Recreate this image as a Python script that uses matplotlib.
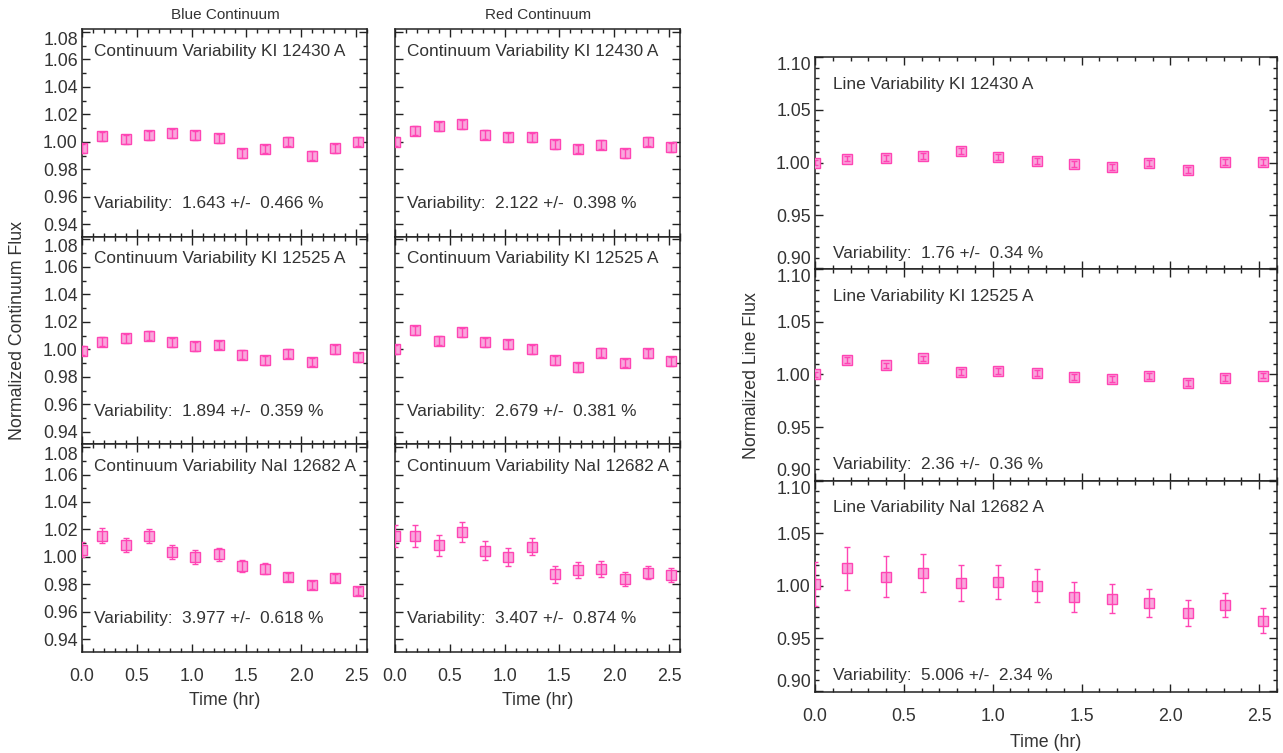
import matplotlib
matplotlib.use("Agg")
import matplotlib.pyplot as plt
from matplotlib.ticker import MultipleLocator, FixedLocator

plt.rcParams['font.family'] = ['Liberation Sans', 'DejaVu Sans']

# ---------------- data ----------------
time_hr = [0.0, 0.18, 0.40, 0.61, 0.82, 1.03, 1.25, 1.46, 1.67, 1.88, 2.10, 2.31, 2.52]

lines = ["KI 12430 A", "KI 12525 A", "NaI 12682 A"]

blue_flux = [
    [0.9954, 1.0039, 1.0019, 1.0048, 1.0063, 1.0048, 1.0024, 0.9915, 0.9947, 1.0000, 0.9898, 0.9954, 1.0002],
    [0.9990, 1.0056, 1.0080, 1.0099, 1.0053, 1.0024, 1.0032, 0.9961, 0.9922, 0.9968, 0.9908, 1.0002, 0.9942],
    [1.0053, 1.0155, 1.0090, 1.0155, 1.0036, 1.0000, 1.0019, 0.9932, 0.9915, 0.9852, 0.9796, 0.9845, 0.9755],
]
blue_err = [
    [0.0032] * 13,
    [0.0032] * 13,
    [0.0053, 0.0053, 0.0051, 0.0050, 0.0048, 0.0048, 0.0046, 0.0044, 0.0039, 0.0030, 0.0031, 0.0028, 0.0029],
]
blue_var = ["1.643 +/-  0.466 %", "1.894 +/-  0.359 %", "3.977 +/-  0.618 %"]

red_flux = [
    [1.0002, 1.0080, 1.0112, 1.0128, 1.0051, 1.0034, 1.0032, 0.9981, 0.9947, 0.9978, 0.9915, 1.0002, 0.9959],
    [1.0002, 1.0138, 1.0063, 1.0126, 1.0051, 1.0036, 1.0002, 0.9920, 0.9869, 0.9976, 0.9901, 0.9971, 0.9915],
    [1.0150, 1.0150, 1.0085, 1.0179, 1.0044, 1.0000, 1.0073, 0.9874, 0.9908, 0.9913, 0.9838, 0.9886, 0.9867],
]
red_err = [
    [0.0032] * 13,
    [0.0032] * 13,
    [0.0080, 0.0080, 0.0076, 0.0073, 0.0070, 0.0067, 0.0062, 0.0062, 0.0058, 0.0056, 0.0052, 0.0048, 0.0051],
]
red_var = ["2.122 +/-  0.398 %", "2.679 +/-  0.381 %", "3.407 +/-  0.874 %"]

line_flux = [
    [1.0000, 1.0038, 1.0044, 1.0060, 1.0111, 1.0054, 1.0016, 0.9987, 0.9956, 0.9994, 0.9933, 1.0003, 1.0003],
    [1.0000, 1.0140, 1.0086, 1.0152, 1.0025, 1.0035, 1.0016, 0.9978, 0.9959, 0.9984, 0.9917, 0.9965, 0.9990],
    [1.0016, 1.0165, 1.0086, 1.0121, 1.0025, 1.0032, 1.0000, 0.9892, 0.9876, 0.9835, 0.9743, 0.9816, 0.9667],
]
line_err = [
    [0.0027] * 13,
    [0.0027] * 13,
    [0.0205, 0.0205, 0.0194, 0.0180, 0.0170, 0.0163, 0.0156, 0.0146, 0.0138, 0.0130, 0.0124, 0.0113, 0.0116],
]
line_var = ["1.76 +/-  0.34 %", "2.36 +/-  0.36 %", "5.006 +/-  2.34 %"]

cont_yticks = [0.94, 0.96, 0.98, 1.00, 1.02, 1.04, 1.06, 1.08]
line_yticks = [0.90, 0.95, 1.00, 1.05, 1.10]
xticks = [0.0, 0.5, 1.0, 1.5, 2.0, 2.5]

# ---------------- style ----------------
W, H = 1283, 753
FILL = '#f9a6dc'
EDGE = '#ff45b4'
TXT = '#333333'
TICK_FS = 12.8
ANN_FS = 12.4

fig = plt.figure(figsize=(W / 100, H / 100), dpi=100)


def px_axes(x0, y0, x1, y1):
    return fig.add_axes([x0 / W, 1 - y1 / H, (x1 - x0) / W, (y1 - y0) / H])


def style_axes(ax, xlim, ylim, yticks, yminor, show_ylabels, show_xlabels,
               shift_top=True, shift_bottom=False):
    ax.set_xlim(*xlim)
    ax.set_ylim(*ylim)
    ax.xaxis.set_major_locator(FixedLocator(xticks))
    ax.xaxis.set_minor_locator(MultipleLocator(0.1))
    ax.set_yticks(yticks)
    ax.set_yticklabels(["%.2f" % v for v in yticks])
    ax.yaxis.set_minor_locator(MultipleLocator(yminor))
    ax.set_xticklabels(["%.1f" % v for v in xticks])
    ax.tick_params(which='both', direction='in', top=True, right=True,
                   colors='#222222', labelcolor=TXT, labelsize=TICK_FS, width=1.0)
    ax.tick_params(which='major', length=5.5)
    ax.tick_params(which='minor', length=3)
    ax.tick_params(axis='x', pad=12)
    ax.tick_params(axis='y', pad=3)
    if not show_ylabels:
        ax.tick_params(axis='y', labelleft=False)
    if not show_xlabels:
        ax.tick_params(axis='x', labelbottom=False)
    for s in ax.spines.values():
        s.set_linewidth(1.1)
        s.set_color('#222222')
    if show_ylabels:
        labs = ax.get_yticklabels()
        if shift_top:
            labs[-1].set_verticalalignment('top')
        if shift_bottom:
            labs[0].set_verticalalignment('bottom')


def draw_points(ax, y, e, ms):
    ax.plot(time_hr, y, 's', ms=ms, mfc=FILL, mec=EDGE, mew=1.0, zorder=3)
    ax.errorbar(time_hr, y, yerr=e, fmt='none', ecolor=EDGE, elinewidth=1.0,
                capsize=2, capthick=1.0, zorder=4)


left_rows = [(29, 236.7), (236.7, 444.3), (444.3, 651.7)]
right_rows = [(57, 269.3), (269.3, 480.7), (480.7, 691.7)]
cols = [(82, 367, blue_flux, blue_err, blue_var, True),
        (395, 680, red_flux, red_err, red_var, False)]

for (x0, x1, flux, err, var, showy) in cols:
    for i, (y0, y1) in enumerate(left_rows):
        ax = px_axes(x0, y0, x1, y1)
        draw_points(ax, flux[i], err[i], 7.2)
        style_axes(ax, (0, 2.6), (0.931, 1.082), cont_yticks, 0.01, showy, i == 2)
        ax.text(0.042, 0.894, "Continuum Variability " + lines[i], transform=ax.transAxes,
                fontsize=ANN_FS, color=TXT, va='center', ha='left')
        ax.text(0.042, 0.159, "Variability:  " + var[i], transform=ax.transAxes,
                fontsize=ANN_FS, color=TXT, va='center', ha='left')
        if i == 2:
            ax.set_xlabel("Time (hr)", fontsize=TICK_FS, color=TXT, labelpad=5)

for i, (y0, y1) in enumerate(right_rows):
    ax = px_axes(815, y0, 1277, y1)
    draw_points(ax, line_flux[i], line_err[i], 7.5)
    style_axes(ax, (0, 2.6), (0.899, 1.100), line_yticks, 0.01, True, i == 2,
               shift_top=True, shift_bottom=True)
    ax.text(0.039, 0.872, "Line Variability " + lines[i], transform=ax.transAxes,
            fontsize=ANN_FS, color=TXT, va='center', ha='left')
    ax.text(0.039, 0.076, "Variability:  " + line_var[i], transform=ax.transAxes,
            fontsize=ANN_FS, color=TXT, va='center', ha='left')
    if i == 2:
        ax.set_xlabel("Time (hr)", fontsize=TICK_FS, color=TXT, labelpad=6)

fig.text(225 / W, 1 - 15 / H, "Blue Continuum", ha='center', va='center', fontsize=11, color=TXT)
fig.text(538 / W, 1 - 15 / H, "Red Continuum", ha='center', va='center', fontsize=11, color=TXT)
fig.text(18 / W, 1 - 330 / H, "Normalized Continuum Flux", rotation=90, ha='center', va='center',
         fontsize=TICK_FS, color=TXT)
fig.text(752 / W, 1 - 376 / H, "Normalized Line Flux", rotation=90, ha='center', va='center',
         fontsize=TICK_FS, color=TXT)

fig.savefig("out.png", dpi=100)
